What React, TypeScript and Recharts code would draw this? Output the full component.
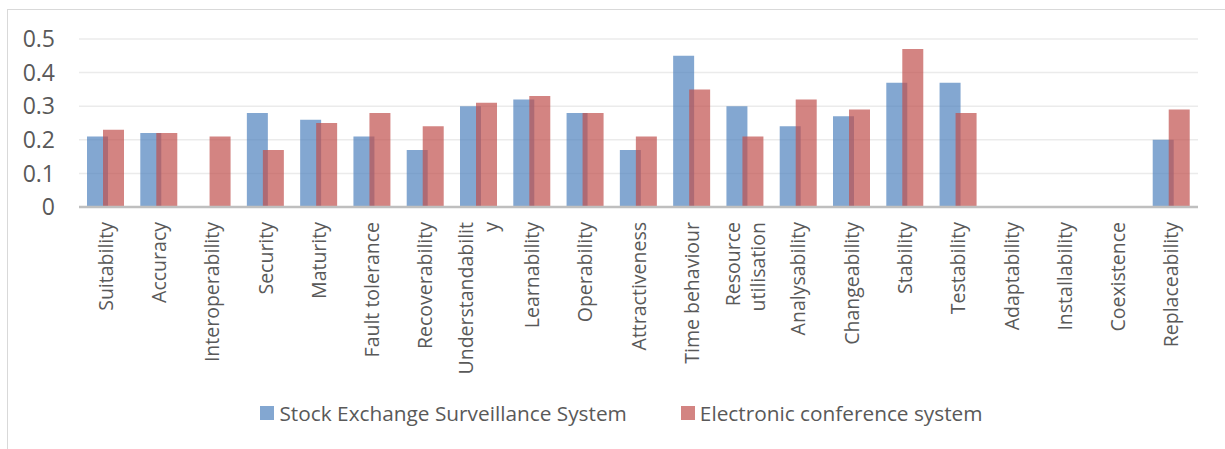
import React from 'react';
import { BarChart, Bar, XAxis, YAxis, CartesianGrid, Legend } from 'recharts';

const categories = [
  'Suitability', 'Accuracy', 'Interoperability', 'Security', 'Maturity',
  'Fault tolerance', 'Recoverability', 'Understandability', 'Learnability',
  'Operability', 'Attractiveness', 'Time behaviour', 'Resource utilisation',
  'Analysability', 'Changeability', 'Stability', 'Testability', 'Adaptability',
  'Installability', 'Coexistence', 'Replaceability',
];

// wrapped text shown under each category
const tickLabels = [
  ['Suitability'], ['Accuracy'], ['Interoperability'], ['Security'], ['Maturity'],
  ['Fault tolerance'], ['Recoverability'], ['Understandabilit', 'y'], ['Learnability'],
  ['Operability'], ['Attractiveness'], ['Time behaviour'], ['Resource', 'utilisation'],
  ['Analysability'], ['Changeability'], ['Stability'], ['Testability'], ['Adaptability'],
  ['Installability'], ['Coexistence'], ['Replaceability'],
];

const stockExchange = [
  0.21, 0.22, 0, 0.28, 0.26, 0.21, 0.17, 0.30, 0.32, 0.28, 0.17,
  0.45, 0.30, 0.24, 0.27, 0.37, 0.37, 0, 0, 0, 0.20,
];

const conference = [
  0.23, 0.22, 0.21, 0.17, 0.25, 0.28, 0.24, 0.31, 0.33, 0.28, 0.21,
  0.35, 0.21, 0.32, 0.29, 0.47, 0.28, 0, 0, 0, 0.29,
];

const yTicks = [0, 0.1, 0.2, 0.3, 0.4, 0.5];

const data = categories.map((name, i) => ({
  name,
  stock: stockExchange[i],
  conf: conference[i],
}));

const BLUE = '#4F81BD';
const RED = '#C0504D';
const TEXT = '#595959';
const FONT = '"Open Sans", sans-serif';

const CategoryTick = (props: any) => {
  const { x, payload } = props;
  const lines = tickLabels[payload.index] || [payload.value];
  const top = 222;
  const spacing = 25;
  const first = -((lines.length - 1) * spacing) / 2;
  return (
    <text
      transform={`rotate(-90, ${x}, ${top})`}
      x={x}
      y={top}
      textAnchor="end"
      fill={TEXT}
      fontSize={19.5}
      fontFamily={FONT}
    >
      {lines.map((line: string, i: number) => (
        <tspan key={i} x={x} dy={i === 0 ? first + 7 : spacing}>
          {line}
        </tspan>
      ))}
    </text>
  );
};

const LegendContent = () => (
  <div
    style={{
      display: 'flex',
      justifyContent: 'center',
      alignItems: 'center',
      height: 30,
      fontFamily: FONT,
      fontSize: 20.8,
      color: TEXT,
      paddingLeft: 45,
    }}
  >
    <span style={{ display: 'inline-block', width: 14, height: 14, background: BLUE, opacity: 0.7, marginRight: 5 }} />
    <span style={{ marginRight: 54 }}>Stock Exchange Surveillance System</span>
    <span style={{ display: 'inline-block', width: 14, height: 14, background: RED, opacity: 0.7, marginRight: 5 }} />
    <span>Electronic conference system</span>
  </div>
);

export default function App() {
  return (
    <div style={{ position: 'absolute', left: 0, top: 0, width: 1225, height: 449, background: '#fff', overflow: 'hidden' }}>
      <div
        style={{
          position: 'absolute',
          left: 7,
          top: 9,
          width: 1240,
          height: 460,
          border: '1.5px solid #d9d9d9',
        }}
      />
      <div style={{ position: 'absolute', left: 0, top: 0 }}>
        <BarChart
          width={1225}
          height={449}
          data={data}
          margin={{ top: 39, right: 27, bottom: 21, left: 0 }}
          barSize={21}
          barGap={-5}
        >
          <CartesianGrid vertical={false} stroke="#ebebeb" strokeWidth={1.5} />
          <XAxis
            dataKey="name"
            interval={0}
            height={191}
            tickLine={false}
            axisLine={{ stroke: '#bfbfbf', strokeWidth: 2.5 }}
            tick={<CategoryTick />}
          />
          <YAxis
            width={79}
            domain={[0, 0.5]}
            ticks={yTicks}
            axisLine={false}
            tickLine={false}
            tickSize={0}
            tickMargin={24}
            tick={{ fill: TEXT, fontSize: 23, fontFamily: FONT }}
          />
          <Legend verticalAlign="bottom" height={30} content={<LegendContent />} />
          <Bar dataKey="stock" name="Stock Exchange Surveillance System" fill={BLUE} fillOpacity={0.7} isAnimationActive={false} />
          <Bar dataKey="conf" name="Electronic conference system" fill={RED} fillOpacity={0.7} isAnimationActive={false} />
        </BarChart>
      </div>
    </div>
  );
}
